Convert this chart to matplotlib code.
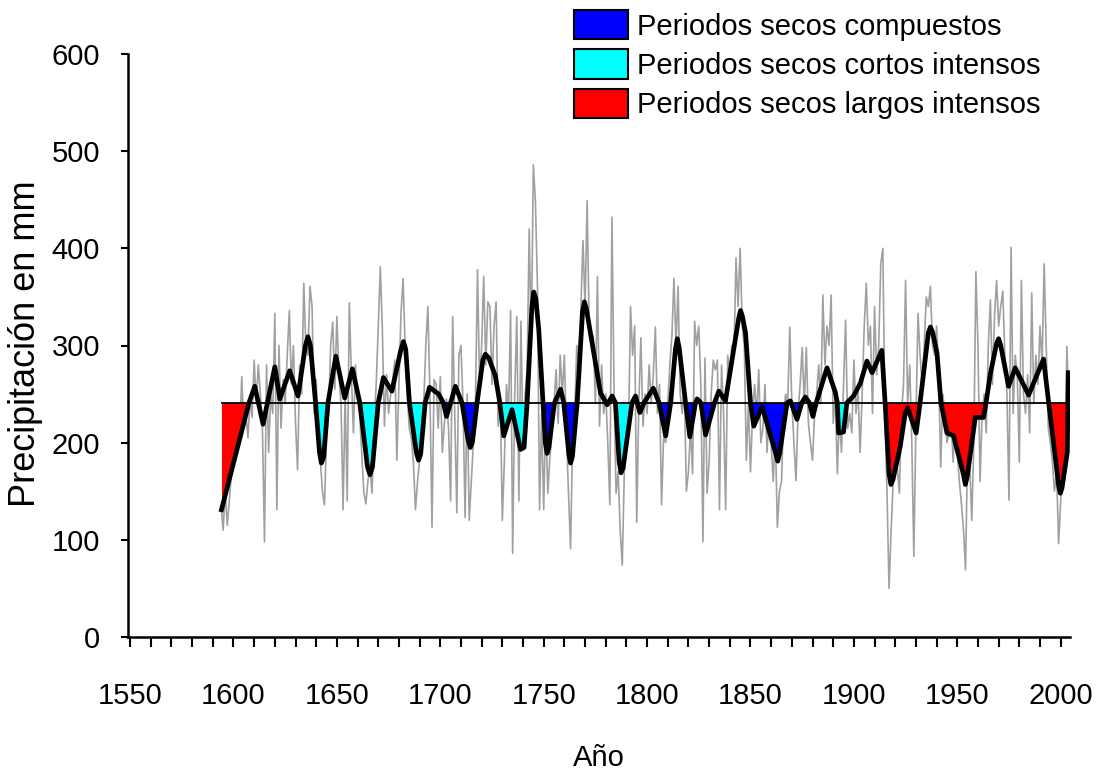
import matplotlib
matplotlib.use("Agg")
import matplotlib.pyplot as plt
from matplotlib.patches import Patch
import numpy as np

plt.rcParams["font.family"] = ["Liberation Sans", "DejaVu Sans"]

# annual precipitation (mm), 1594-2004
years = np.arange(1594, 2005)
annual = [
    135, 110, 150, 115, 140, 170,
    180, 200, 225, 205, 268, 215, 230, 205, 245, 226,
    285, 240, 280, 250, 215, 98, 280, 190, 250, 230,
    333, 131, 300, 215, 265, 240, 290, 336, 260, 300,
    220, 172, 280, 250, 364, 300, 290, 361, 340, 230,
    265, 200, 182, 150, 136, 205, 230, 300, 324, 255,
    330, 270, 240, 131, 250, 140, 344, 270, 210, 280,
    245, 230, 190, 150, 137, 160, 175, 148, 215, 260,
    318, 381, 316, 217, 270, 230, 250, 265, 285, 182,
    260, 333, 369, 300, 250, 215, 205, 180, 131, 160,
    182, 210, 240, 300, 340, 250, 113, 265, 260, 215,
    268, 190, 220, 245, 215, 140, 330, 230, 128, 290,
    300, 240, 123, 250, 120, 160, 200, 240, 378, 260,
    300, 371, 280, 345, 340, 260, 320, 345, 217, 250,
    120, 182, 260, 230, 336, 86, 250, 330, 140, 325,
    200, 250, 275, 420, 300, 486, 449, 360, 131, 230,
    131, 230, 148, 185, 210, 240, 275, 220, 290, 250,
    290, 210, 148, 91, 205, 230, 300, 280, 340, 408,
    340, 449, 320, 300, 310, 240, 371, 217, 280, 230,
    250, 200, 136, 432, 260, 148, 170, 110, 74, 170,
    230, 210, 340, 290, 320, 118, 240, 308, 217, 250,
    230, 280, 240, 270, 319, 230, 260, 136, 207, 200,
    240, 280, 310, 369, 300, 361, 250, 230, 260, 150,
    170, 215, 168, 325, 300, 320, 260, 98, 287, 148,
    180, 250, 285, 275, 285, 131, 280, 230, 131, 290,
    270, 300, 290, 390, 340, 400, 320, 300, 182, 240,
    170, 230, 260, 228, 275, 200, 215, 260, 190, 230,
    200, 160, 210, 113, 150, 160, 230, 250, 240, 319,
    240, 200, 161, 230, 260, 298, 240, 298, 220, 200,
    182, 230, 250, 280, 240, 352, 280, 320, 300, 352,
    220, 250, 168, 230, 190, 260, 326, 215, 230, 210,
    285, 230, 255, 190, 250, 320, 364, 300, 320, 230,
    340, 270, 300, 384, 400, 230, 150, 50, 110, 160,
    200, 175, 148, 230, 260, 367, 240, 280, 200, 83,
    220, 333, 290, 260, 300, 350, 340, 361, 300, 290,
    320, 270, 175, 250, 230, 200, 210, 225, 180, 230,
    190, 160, 137, 110, 69, 200, 180, 120, 200, 376,
    300, 160, 230, 250, 210, 300, 347, 260, 330, 367,
    320, 340, 356, 290, 250, 141, 401, 230, 290, 270,
    180, 367, 250, 230, 270, 210, 354, 240, 290, 260,
    320, 280, 384, 300, 215, 200, 180, 150, 170, 96,
    140, 210, 180, 299, 230,
]

# smoothed series as (year, mm)
smooth = [
    (1594.2, 131), (1607.5, 241), (1610.3, 258), (1614.3, 219), (1620.0, 278),
    (1622.4, 245), (1627.2, 274), (1631.2, 248), (1634.8, 300), (1636.0, 309),
    (1637.2, 300), (1639.7, 241), (1641.6, 190), (1642.5, 179), (1643.6, 185),
    (1645.7, 241), (1649.5, 289), (1653.8, 246), (1657.5, 276), (1661.1, 241),
    (1664.8, 175), (1666.0, 167), (1667.2, 175), (1670.0, 241), (1672.5, 267),
    (1676.6, 253), (1681.0, 296), (1682.2, 304), (1683.3, 296), (1685.1, 241),
    (1688.4, 190), (1689.5, 182), (1690.5, 188), (1692.7, 241), (1694.8, 257),
    (1699.2, 250), (1701.5, 241), (1703.0, 227), (1705.0, 241), (1707.3, 258),
    (1710.5, 241), (1713.5, 202), (1714.5, 195), (1715.5, 200), (1717.8, 241),
    (1720.6, 285), (1721.8, 291), (1723.5, 287), (1726.6, 269), (1728.8, 241),
    (1730.7, 207), (1734.7, 234), (1738.8, 193), (1740.5, 195), (1742.0, 241),
    (1744.3, 340), (1745.2, 355), (1746.2, 348), (1747.6, 317), (1749.7, 241),
    (1750.8, 200), (1751.6, 189), (1752.5, 195), (1755.2, 241), (1758.2, 255),
    (1759.7, 241), (1762.2, 188), (1763.0, 179), (1763.9, 186), (1766.2, 241),
    (1768.8, 335), (1769.7, 345), (1770.7, 337), (1777.5, 251), (1780.7, 239),
    (1783.1, 248), (1784.7, 241), (1786.5, 180), (1787.4, 169), (1788.4, 174),
    (1792.7, 241), (1794.4, 248), (1796.5, 231), (1798.5, 241), (1803.0, 256),
    (1805.8, 241), (1809.0, 207), (1811.4, 241), (1813.7, 296), (1814.6, 307),
    (1815.5, 298), (1818.6, 241), (1820.7, 206), (1823.4, 241), (1824.2, 245),
    (1826.0, 241), (1828.3, 208), (1832.6, 241), (1834.7, 253), (1837.9, 243),
    (1844.3, 328), (1845.2, 336), (1846.1, 330), (1847.6, 313), (1850.0, 241),
    (1851.6, 217), (1855.6, 237), (1862.3, 188), (1863.2, 181), (1864.2, 190),
    (1867.7, 241), (1869.3, 243), (1872.5, 224), (1874.8, 241), (1876.5, 247),
    (1878.5, 241), (1880.2, 227), (1881.8, 241), (1887.0, 277), (1891.0, 252),
    (1892.0, 241), (1892.6, 210), (1895.0, 211), (1896.6, 241), (1899.8, 248),
    (1903.1, 261), (1906.3, 284), (1908.8, 272), (1913.5, 295), (1915.1, 241),
    (1917.0, 168), (1917.9, 157), (1918.9, 162), (1922.4, 196), (1924.8, 230),
    (1926.0, 236), (1930.1, 210), (1932.0, 241), (1936.0, 313), (1937.0, 319),
    (1938.0, 314), (1940.2, 292), (1942.1, 241), (1945.0, 210), (1948.2, 207),
    (1953.0, 167), (1953.9, 157), (1954.8, 165), (1958.7, 226), (1962.7, 226),
    (1963.9, 241), (1966.0, 271), (1969.0, 302), (1970.0, 307), (1971.0, 300),
    (1974.8, 258), (1978.0, 277), (1984.5, 249), (1991.7, 286), (1994.2, 241),
    (1999.0, 156), (1999.8, 148), (2000.6, 153), (2003.2, 190), (2003.7, 272),
]
mean_mm = 241

# dry periods: (start, end)
compuestos = [(1701, 1706), (1710, 1719), (1749, 1756), (1759, 1767),
              (1805, 1812), (1818, 1824), (1825.5, 1833), (1849, 1875.5),
              (1878, 1882.5)]
cortos = [(1639, 1647), (1660, 1671), (1684, 1694), (1728, 1743),
          (1784, 1793), (1891.5, 1897)]
largos = [(1594, 1608), (1914, 1933), (1941, 1965), (1993, 2004.5)]

fig = plt.figure(figsize=(10.97, 7.74), dpi=100)
ax = fig.add_axes([128 / 1097, 1 - 637 / 774, (1070 - 128) / 1097, (637 - 54) / 774])

ax.plot(years, annual, color="#a0a0a0", lw=1.2, zorder=1)

sx = np.array([p[0] for p in smooth])
sv = np.array([p[1] for p in smooth])
for periods, col in [(compuestos, "#0000ff"), (cortos, "#00ffff"), (largos, "#ff0000")]:
    for s, e in periods:
        m = (sx >= s) & (sx <= e)
        ax.fill_between(sx[m], np.minimum(sv[m], mean_mm), mean_mm,
                        color=col, lw=0, zorder=2)

ax.plot([1594.5, 2004.5], [mean_mm, mean_mm], color="black", lw=1.3, zorder=3)
ax.plot(sx, sv, color="black", lw=3.4, zorder=4, solid_joinstyle="round")

ax.set_xlim(1549, 2004.5)
ax.set_ylim(0, 600)
ax.set_xticks(np.arange(1550, 2001, 50))
ax.set_xticks(np.arange(1550, 2001, 10), minor=True)
ax.set_yticks(np.arange(0, 601, 100))
for sp in ["top", "right"]:
    ax.spines[sp].set_visible(False)
for sp in ["left", "bottom"]:
    ax.spines[sp].set_linewidth(1.8)
ax.tick_params(axis="x", which="both", length=7.5, width=1.5, direction="out",
               pad=25, labelsize=21)
ax.tick_params(axis="y", length=5, width=1.5, direction="out", pad=15,
               labelsize=21)

ax.set_xlabel("Año", fontsize=21, va="center")
ax.xaxis.set_label_coords(0.5, -0.207)
ax.set_ylabel("Precipitación en mm", fontsize=26, va="center")
ax.yaxis.set_label_coords(-0.109, 0.503)

handles = [Patch(facecolor="#0000ff", edgecolor="black", lw=1.5),
           Patch(facecolor="#00ffff", edgecolor="black", lw=1.5),
           Patch(facecolor="#ff0000", edgecolor="black", lw=1.5)]
labels = ["Periodos secos compuestos", "Periodos secos cortos intensos",
          "Periodos secos largos intensos"]
fig.legend(handles, labels, loc="upper left", bbox_to_anchor=(574 / 1097, 0.987),
           frameon=False, borderpad=0, borderaxespad=0, handlelength=1.86,
           handleheight=1.17, handletextpad=0.3, labelspacing=0.3,
           prop={"size": 21})

fig.savefig("out.png", dpi=100, facecolor="white")
